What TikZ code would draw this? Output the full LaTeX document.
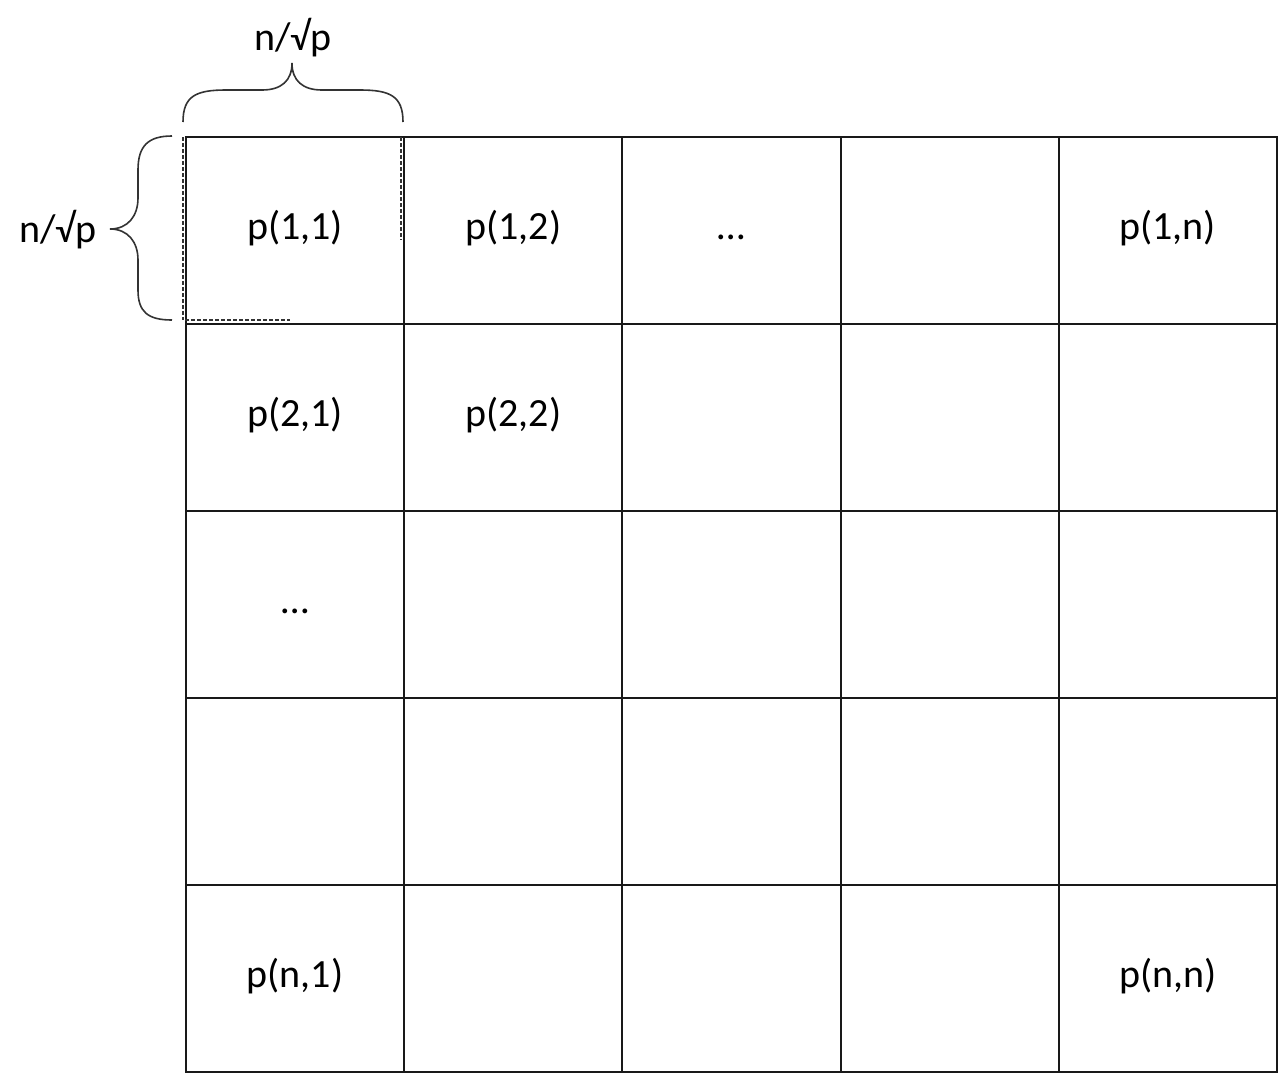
\documentclass[tikz,border=0pt]{standalone}
\usepackage{fontspec}
\setmainfont{Carlito}
\begin{document}
\begin{tikzpicture}[x=1pt,y=-1pt,
  cell/.style={draw=black!90,line width=1.9pt,minimum width=218.2pt,minimum height=187pt,inner sep=0pt,anchor=north west},
  brace/.style={draw=black!80,line width=1.6pt},
  lbl/.style={font=\fontsize{40}{44}\selectfont,inner sep=0pt},
  celltext/.style={lbl,text height=0.72em,text depth=0.22em,yshift=-7pt},
  dashline/.style={draw=black!80,line width=1.4pt,dash pattern=on 4pt off 2pt}]
\useasboundingbox (0,0) rectangle (1280,1074);
\foreach \r in {1,...,5}{
  \foreach \c in {1,...,5}{
    \node[cell] (c\r\c) at ({185+(\c-1)*218.2},{136+(\r-1)*187}) {};
  }
}
\node[celltext] (t11) at (c11.center) {p(1,1)};
\node[celltext] (t12) at (c12.center) {p(1,2)};
\node[celltext] (t13) at (c13.center) {…};
\node[celltext] (t15) at (c15.center) {p(1,n)};
\node[celltext] (t21) at (c21.center) {p(2,1)};
\node[celltext] (t22) at (c22.center) {p(2,2)};
\node[celltext] (t31) at (c31.center) {…};
\node[celltext] (t51) at (c51.center) {p(n,1)};
\node[celltext] (t55) at (c55.center) {p(n,n)};
% dashed outline of the first block
\draw[dashline] (183,137) -- (183,320);
\draw[dashline] (401,137) -- (401,240);
\draw[dashline] (185,320) -- (290,320);
% braces
\draw[brace] (183,122) .. controls (183,96) and (196,90) .. (226,90) -- (262,90)
  .. controls (281,90) and (292,81) .. (292,63)
  .. controls (292,81) and (303,90) .. (322,90) -- (360,90)
  .. controls (390,90) and (403,96) .. (403,122);
\draw[brace] (172,136) .. controls (148,136) and (138,146) .. (138,170) -- (138,198)
  .. controls (138,216) and (128,229) .. (110,229)
  .. controls (128,229) and (138,242) .. (138,260) -- (138,290)
  .. controls (138,312) and (148,320) .. (172,320);
\node[lbl] (top) at (293,38) {n/√p};
\node[lbl] (left) at (58,230) {n/√p};
\end{tikzpicture}
\end{document}
